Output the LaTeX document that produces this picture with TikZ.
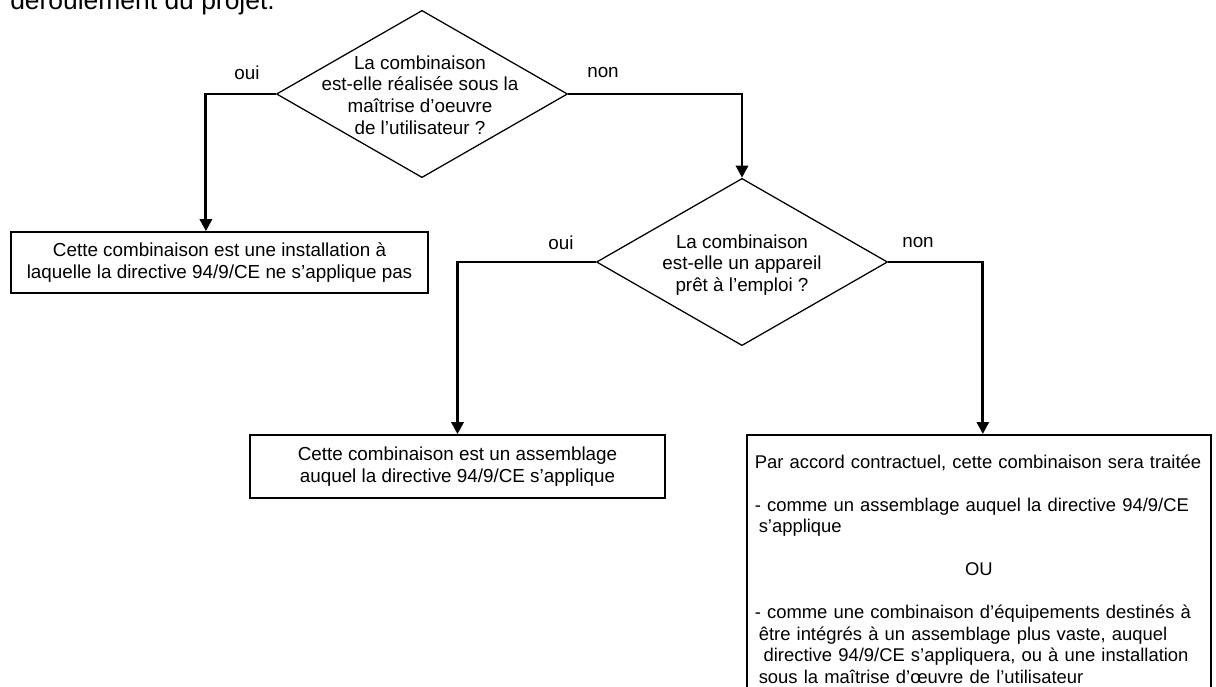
\documentclass[tikz,border=0pt]{standalone}
\usepackage{fontspec}
\setmainfont{Liberation Sans}
\usetikzlibrary{shapes.geometric,arrows.meta}

\begin{document}
\begin{tikzpicture}[x=0.025cm, y=-0.025cm,
    question/.style={draw, diamond, line width=0.9pt, inner sep=0pt, minimum width=7.275cm, minimum height=4.18cm},
    qtext/.style={align=center, font=\fontsize{13.4}{15.3}\selectfont},
    result/.style={draw, line width=1.1pt, align=center, font=\fontsize{13.4}{15.3}\selectfont},
    choice/.style={font=\fontsize{13.4}{15.3}\selectfont},
    arrow/.style={-{Triangle[length=3mm,width=3mm]}, line width=2pt}
]
\useasboundingbox (0,0) rectangle (1216,686);
\clip (0,0) rectangle (1216,686);
\fill[white] (0,0) rectangle (1216,686);
\node[anchor=base west, inner sep=0pt, font=\fontsize{18.8}{22}\selectfont] (intro) at (10,9) {déroulement du projet.};
\node[question] (q1) at (422,94) {};
\node[qtext] (q1t) at (420,95) {La combinaison\\est-elle réalisée sous la\\maîtrise d’oeuvre\\de l’utilisateur ?};
\node[question] (q2) at (742,262) {};
\node[qtext] (q2t) at (742,265) {La combinaison\\est-elle un appareil\\prêt à l’emploi ?};
\node[result, minimum width=10.425cm, minimum height=1.525cm] (inst) at (219.5,262.5) {Cette combinaison est une installation à\\laquelle la directive 94/9/CE ne s’applique pas};
\node[result, minimum width=10.375cm, minimum height=1.575cm] (assemb) at (457.5,466.5) {Cette combinaison est un assemblage\\auquel la directive 94/9/CE s’applique};
\node[result, anchor=north west, align=left, text width=11.2cm, inner xsep=0.2cm, inner ysep=0.5cm, font=\fontsize{13.1}{15.3}\selectfont] (accord) at (746,434) {\mbox{Par accord contractuel, cette combinaison sera traitée}\\[\baselineskip]
\mbox{- comme un assemblage auquel la directive 94/9/CE}\\
\hspace*{0.1cm}s’applique\\[\baselineskip]
\makebox[\linewidth]{OU}\\[\baselineskip]
\mbox{- comme une combinaison d’équipements destinés à}\\
\hspace*{0.1cm}\mbox{être intégrés à un assemblage plus vaste, auquel}\\
\hspace*{0.22cm}\mbox{directive 94/9/CE s’appliquera, ou à une installation}\\
\hspace*{0.1cm}\mbox{sous la maîtrise d’œuvre de l’utilisateur}};
\draw[arrow] (q1.west) -| ([xshift=-0.34cm]inst.north);
\draw[arrow] (q1.east) -| (q2.north);
\draw[arrow] (q2.west) -| (assemb.north);
\draw[arrow] (q2.east) -| ([xshift=0.1cm]accord.north);
\node[choice] (oui1) at (247,73) {oui};
\node[choice] (non1) at (603,73) {non};
\node[choice] (oui2) at (561,243) {oui};
\node[choice] (non2) at (918,243) {non};
\end{tikzpicture}
\end{document}
